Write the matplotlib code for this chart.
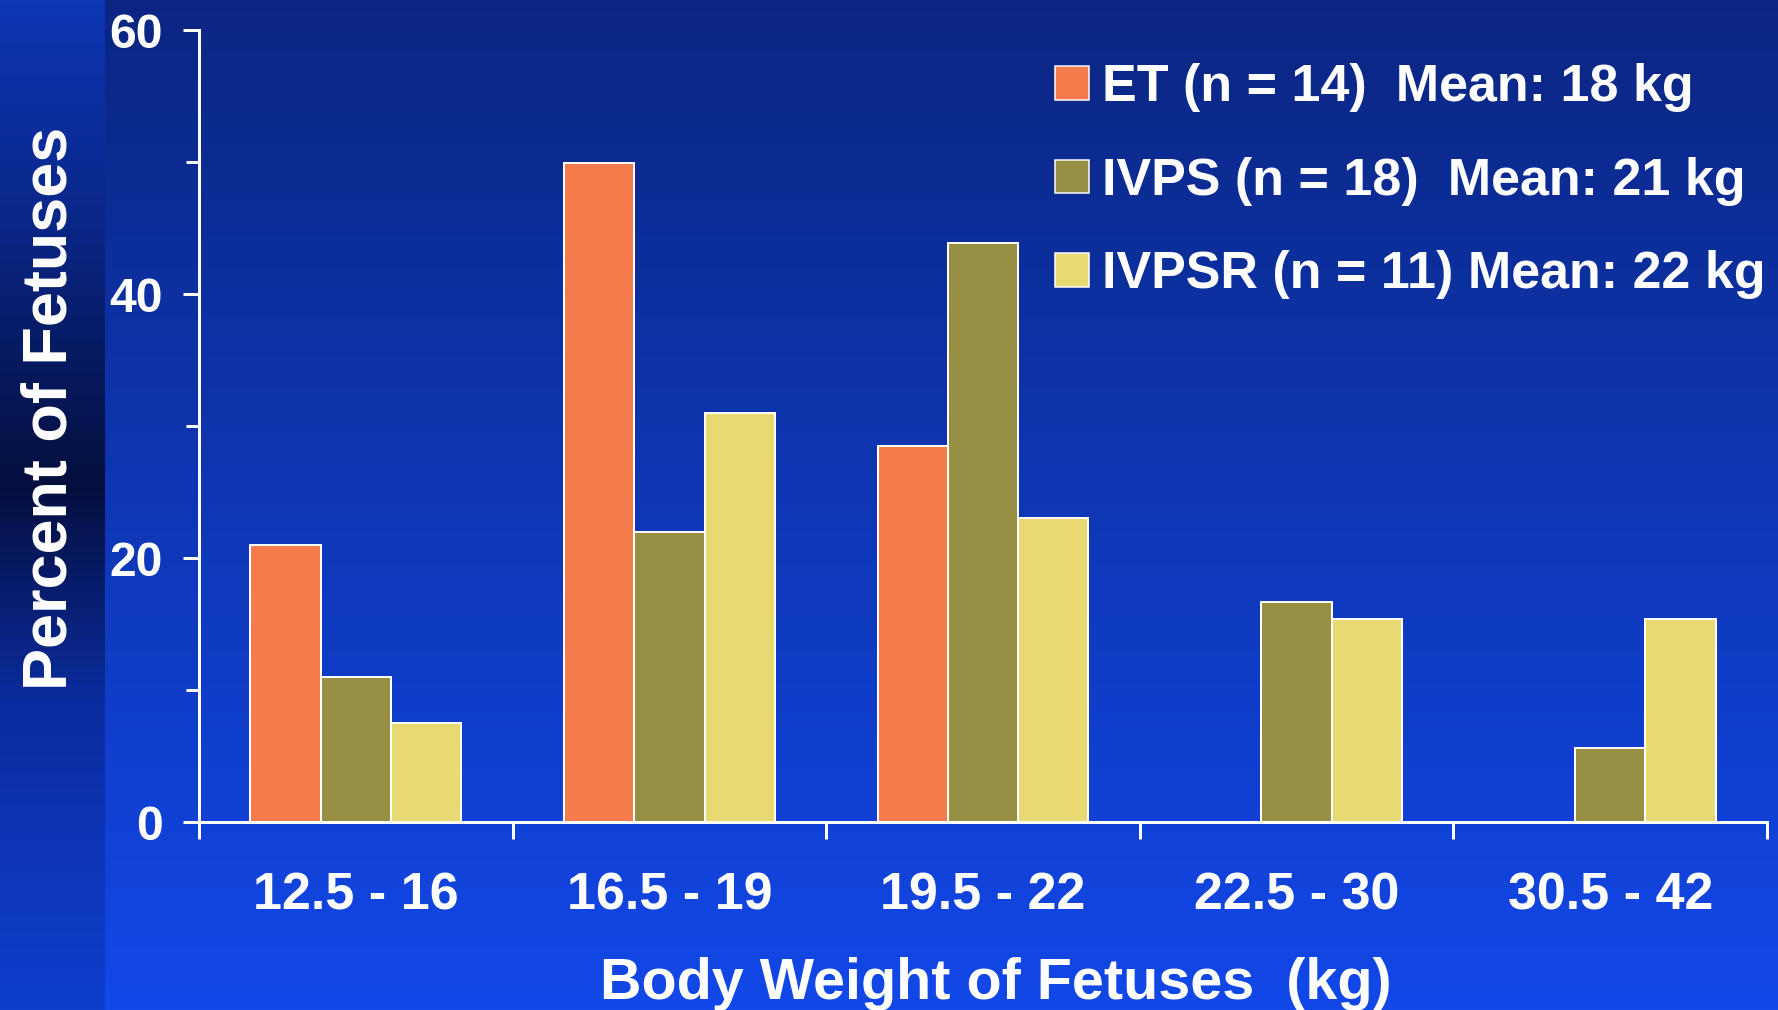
import numpy as np
import matplotlib.pyplot as plt
from matplotlib.patches import Patch
from matplotlib.colors import LinearSegmentedColormap

# weight classes and percent of fetuses in each group
categories = ['12.5 - 16', '16.5 - 19', '19.5 - 22', '22.5 - 30', '30.5 - 42']
et_pct = [21.0, 49.9, 28.5, 0, 0]
ivps_pct = [11.0, 22.0, 43.9, 16.7, 5.6]
ivpsr_pct = [7.5, 31.0, 23.0, 15.4, 15.4]
series_labels = ['ET (n = 14)  Mean: 18 kg',
                 'IVPS (n = 18)  Mean: 21 kg',
                 'IVPSR (n = 11) Mean: 22 kg']
series_colors = ['#F47B4B', '#978F44', '#E8D972']

W, H, DPI = 1778, 1010, 72
plt.rcParams['font.family'] = ['Liberation Sans', 'DejaVu Sans']
plt.rcParams['font.weight'] = 'bold'

fig = plt.figure(figsize=(W / DPI, H / DPI), dpi=DPI)

# slide background: blue gradient, darker strip on the left
bg = fig.add_axes([0, 0, 1, 1], zorder=-10)
bg.set_axis_off()
main_cmap = LinearSegmentedColormap.from_list('main', [(11 / 255, 38 / 255, 130 / 255),
                                                       (18 / 255, 72 / 255, 232 / 255)])
grad = np.linspace(0, 1, 256).reshape(-1, 1)
bg.imshow(grad, cmap=main_cmap, aspect='auto', extent=[0, W, H, 0])
strip_cmap = LinearSegmentedColormap.from_list('strip', [
    (0.0, (13 / 255, 54 / 255, 180 / 255)),
    (0.2, (10 / 255, 40 / 255, 140 / 255)),
    (0.48, (4 / 255, 15 / 255, 62 / 255)),
    (0.7, (11 / 255, 44 / 255, 160 / 255)),
    (1.0, (15 / 255, 62 / 255, 205 / 255))])
bg.imshow(grad, cmap=strip_cmap, aspect='auto', extent=[0, 105, H, 0])
bg.set_xlim(0, W)
bg.set_ylim(H, 0)

ax = fig.add_axes([199 / W, 1 - 822 / H, (1767 - 199) / W, (822 - 30) / H])
ax.patch.set_alpha(0)

x = np.arange(len(categories))
bw = 0.224
for i, (vals, col, lab) in enumerate(zip([et_pct, ivps_pct, ivpsr_pct], series_colors, series_labels)):
    ax.bar(x + (i - 1) * bw, vals, bw, color=col, edgecolor='white', linewidth=2, label=lab, zorder=3)

ax.set_xlim(-0.5, len(categories) - 0.5)
ax.set_ylim(0, 60)

for s in ['top', 'right']:
    ax.spines[s].set_visible(False)
for s in ['left', 'bottom']:
    ax.spines[s].set_color('white')
    ax.spines[s].set_linewidth(3)
    ax.spines[s].set_zorder(4)

ax.set_yticks([0, 20, 40, 60])
ax.set_yticks([10, 30, 50], minor=True)
ax.tick_params(axis='y', which='both', colors='white', width=3, length=16, pad=20, labelsize=48)
ax.tick_params(axis='y', which='minor', length=13)

ax.set_xticks(x)
ax.set_xticklabels(categories)
ax.set_xticks(np.arange(-0.5, len(categories)), minor=True)
ax.tick_params(axis='x', which='major', length=0, pad=50, labelsize=52, colors='white')
ax.tick_params(axis='x', which='minor', length=17, width=3, color='white')

fig.text(50 / W, 1 - 408 / H, 'Percent of Fetuses', rotation=90, color='white',
         fontsize=63, fontweight='bold', ha='center', va='center')
fig.text(996 / W, 11 / H, 'Body Weight of Fetuses  (kg)', color='white',
         fontsize=57.5, fontweight='bold', ha='center', va='baseline')

handles = [Patch(facecolor=c, edgecolor='white', linewidth=1.5) for c in series_colors]
leg = fig.legend(handles, series_labels, loc='upper left', bbox_to_anchor=(1055 / W, 1 - 63 / H),
                 frameon=False, fontsize=52, handlelength=0.66, handleheight=0.62,
                 handletextpad=0.25, labelspacing=0.86, borderpad=0, borderaxespad=0)
for t in leg.get_texts():
    t.set_color('white')

fig.savefig('out.png', dpi=DPI)
